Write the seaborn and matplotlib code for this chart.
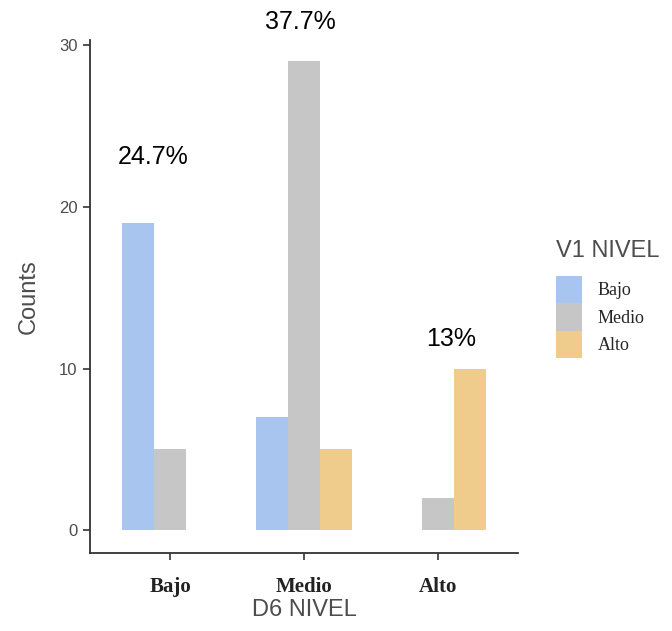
import pandas as pd
import matplotlib.pyplot as plt
import seaborn as sns

d6_nivel = ["Bajo", "Medio", "Alto"]
v1_nivel = ["Bajo", "Medio", "Alto"]
# counts per D6 group, one list per V1 level
counts_v1_bajo = [19, 7, 0]
counts_v1_medio = [5, 29, 2]
counts_v1_alto = [0, 5, 10]
pct_labels = ["24.7%", "37.7%", "13%"]
pct_label_y = [23.1, 31.4, 11.8]

colors = ["#a8c5f0", "#c6c6c6", "#f0cc8c"]

rows = []
for v1, vals in zip(v1_nivel, [counts_v1_bajo, counts_v1_medio, counts_v1_alto]):
    for d6, c in zip(d6_nivel, vals):
        rows.append({"D6 NIVEL": d6, "V1 NIVEL": v1, "Counts": c})
df = pd.DataFrame(rows)

sns.set_style("white")
fig = plt.figure(figsize=(6.72, 6.31), dpi=100)
ax = fig.add_axes([0.134, 0.1236, 0.637, 0.813])

sns.barplot(data=df, x="D6 NIVEL", y="Counts", hue="V1 NIVEL", order=d6_nivel,
            hue_order=v1_nivel, palette=colors, saturation=1, width=0.72,
            linewidth=0, ax=ax)

ax.set_xlim(-0.6, 2.6)
ax.set_ylim(-1.4, 30.3)
ax.set_yticks([0, 10, 20, 30])
sns.despine(ax=ax)
for s in ["left", "bottom"]:
    ax.spines[s].set_color("#333333")
    ax.spines[s].set_linewidth(1.3)

ax.tick_params(axis="y", direction="out", length=5, width=1.2, color="#333333",
               labelsize=12, labelcolor="#4d4d4d", pad=4, left=True)
ax.tick_params(axis="x", direction="out", length=5, width=1.2, color="#333333",
               pad=12, bottom=True)
for lab in ax.get_xticklabels():
    lab.set_fontfamily("Liberation Serif")
    lab.set_fontweight("bold")
    lab.set_fontsize(15)
    lab.set_color("#222222")
for lab in ax.get_yticklabels():
    lab.set_fontfamily("Liberation Sans")

ax.set_xlabel("D6 NIVEL", fontsize=17, color="#4d4d4d", family="Liberation Sans", labelpad=2)
ax.set_ylabel("Counts", fontsize=17, color="#4d4d4d", family="Liberation Sans", labelpad=14)

offsets = [-0.13, -0.03, 0.10]
for i, (t, y) in enumerate(zip(pct_labels, pct_label_y)):
    ax.text(i + offsets[i], y, t, ha="center", va="center", fontsize=18,
            family="Liberation Sans", color="black", clip_on=False)

ax.get_legend().remove()
handles = [plt.Rectangle((0, 0), 1, 1, color=c, linewidth=0) for c in colors]
leg = fig.legend(handles, v1_nivel, title="V1 NIVEL", loc="upper left",
                 bbox_to_anchor=(556 / 672, 1 - 240 / 631), frameon=False,
                 handlelength=1.45, handleheight=1.95, labelspacing=0,
                 handletextpad=0.85, borderaxespad=0, borderpad=0,
                 prop={"family": "Liberation Serif", "size": 13})
leg.get_title().set_fontsize(17)
leg.get_title().set_family("Liberation Sans")
leg.get_title().set_color("#4d4d4d")
leg._legend_box.align = "left"
leg._legend_box.sep = 10

fig.savefig("out.png", dpi=100)
